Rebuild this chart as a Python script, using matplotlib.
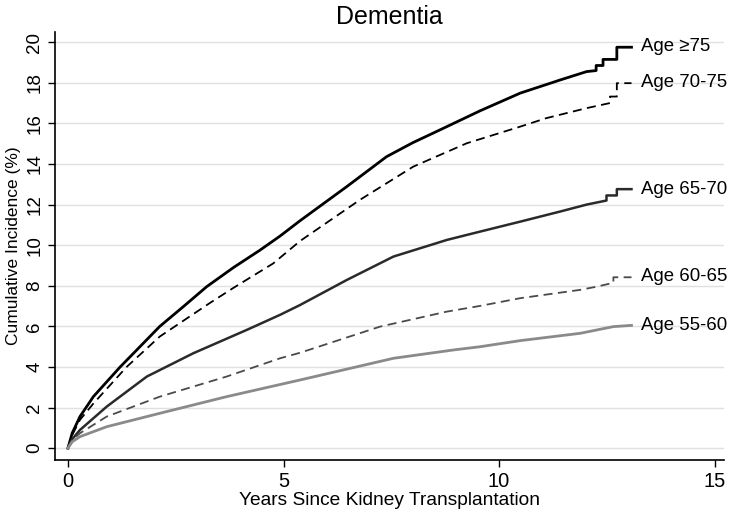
import numpy as np
import matplotlib
matplotlib.use("Agg")
import matplotlib.pyplot as plt

plt.rcParams['font.family'] = ['Liberation Sans', 'DejaVu Sans']

# values (years, cumulative incidence %)
x_75 = [0, 0.1, 0.28, 0.59, 1.21, 2.13, 2.68, 3.22, 3.84, 4.45, 4.92, 5.38, 6.47, 7.39,
        8.0, 8.63, 9.56, 10.49, 11.42, 12.03, 12.25, 12.25, 12.41, 12.41, 12.73, 12.73, 13.07]
y_75 = [0, 0.75, 1.56, 2.54, 4.0, 6.0, 6.98, 7.96, 8.9, 9.75, 10.45, 11.2, 12.89, 14.36,
        15.05, 15.68, 16.62, 17.49, 18.14, 18.55, 18.6, 18.85, 18.85, 19.15, 19.15, 19.75, 19.75]

x_70 = [0, 0.1, 0.28, 0.59, 1.36, 2.13, 3.29, 3.84, 4.76, 5.38, 6.77, 8.01, 9.25, 10.49,
        11.1, 12.03, 12.57, 12.57, 12.73, 12.73, 13.07]
y_70 = [0, 0.65, 1.4, 2.2, 4.0, 5.5, 7.15, 7.9, 9.1, 10.2, 12.23, 13.87, 15.02, 15.84,
        16.26, 16.75, 17.0, 17.32, 17.32, 17.98, 17.98]

x_65 = [0, 0.1, 0.28, 0.9, 1.83, 2.91, 4.15, 4.92, 5.38, 6.47, 7.55, 8.79, 9.56, 10.49,
        11.42, 12.03, 12.49, 12.49, 12.73, 12.73, 13.07]
y_65 = [0, 0.45, 0.9, 2.05, 3.53, 4.68, 5.83, 6.57, 7.05, 8.29, 9.44, 10.26, 10.67, 11.16,
        11.66, 12.0, 12.2, 12.45, 12.45, 12.76, 12.76]

x_60 = [0, 0.1, 0.28, 0.9, 2.13, 3.68, 4.92, 5.38, 7.24, 8.79, 9.56, 10.49, 11.88,
        12.27, 12.65, 12.65, 13.07]
y_60 = [0, 0.4, 0.74, 1.56, 2.54, 3.53, 4.43, 4.7, 5.99, 6.73, 7.01, 7.39, 7.8,
        7.96, 8.15, 8.42, 8.42]

x_55 = [0, 0.1, 0.28, 0.9, 2.13, 3.68, 5.38, 7.55, 8.94, 9.56, 10.49, 11.88, 12.65, 13.07]
y_55 = [0, 0.32, 0.57, 1.06, 1.72, 2.54, 3.36, 4.43, 4.84, 5.0, 5.3, 5.66, 5.99, 6.05]

labels = ['Age \u226575', 'Age 70-75', 'Age 65-70', 'Age 60-65', 'Age 55-60']
label_y = [19.8, 18.0, 12.75, 8.45, 6.05]

fig = plt.figure(figsize=(7.33, 5.16), dpi=100)
ax = fig.add_axes([0.075, 0.1085, 0.913, 0.8295])

ax.plot(x_75, y_75, color='black', lw=2.0, ls='-')
ax.plot(x_70, y_70, color='black', lw=1.3, ls=(0, (5, 3)))
ax.plot(x_65, y_65, color='#2a2a2a', lw=1.8, ls='-')
ax.plot(x_60, y_60, color='#4a4a4a', lw=1.3, ls=(0, (5, 3)))
ax.plot(x_55, y_55, color='#8a8a8a', lw=2.0, ls='-')

for lab, ly in zip(labels, label_y):
    ax.text(13.3, ly, lab, fontsize=13.4, va='center', ha='left')

ax.set_xlim(-0.3, 15.22)
ax.set_ylim(-0.58, 20.5)
ax.set_xticks([0, 5, 10, 15])
ax.set_yticks(np.arange(0, 21, 2))
ax.yaxis.grid(True, color='#e0e0e0', lw=1.0)
ax.set_axisbelow(True)
for s in ['top', 'right']:
    ax.spines[s].set_visible(False)
ax.spines['left'].set_linewidth(1.2)
ax.spines['bottom'].set_linewidth(1.2)
ax.tick_params(axis='x', labelsize=14.5, length=5, width=1.0)
ax.tick_params(axis='y', labelsize=13.5, length=5, width=1.0)
plt.setp(ax.get_yticklabels(), rotation=90, va='center')

ax.set_title('Dementia', fontsize=18, pad=6)
ax.set_xlabel('Years Since Kidney Transplantation', fontsize=13.8, labelpad=1)
ax.set_ylabel('Cumulative Incidence (%)', fontsize=12.5, labelpad=4)

fig.savefig('out.png', dpi=100)
